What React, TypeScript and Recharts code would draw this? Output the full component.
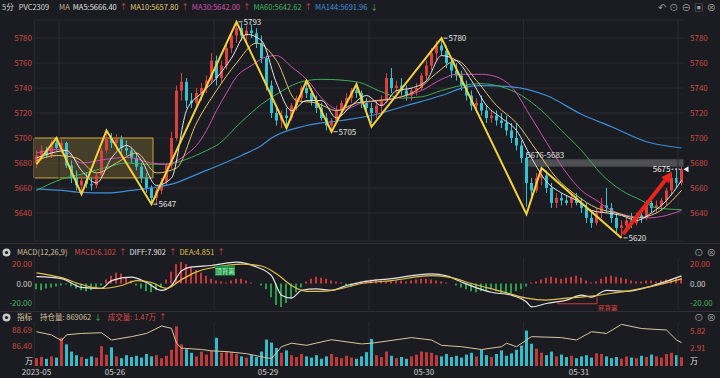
import {
  ComposedChart,
  Bar,
  Line,
  XAxis,
  YAxis,
  CartesianGrid,
  ReferenceLine,
  ReferenceArea,
  ReferenceDot,
  Cell,
} from 'recharts'

const BG = '#1b1c21'
const GRID = '#2a2b31'
const UP = '#d8433f'
const DOWN = '#36c2cf'
const FONT = '"Noto Sans CJK SC", "Noto Sans", sans-serif'

// [open, high, low, close] per bar (resampled 5-minute bars)
const CANDLES: [number, number, number, number][] = [
  [5680, 5690, 5676, 5686], [5686, 5694, 5682, 5690], [5690, 5693, 5684, 5686], [5686, 5698, 5684, 5696],
  [5696, 5700, 5690, 5692], [5692, 5699, 5688, 5696], [5696, 5697, 5676, 5678], [5678, 5682, 5664, 5668],
  [5668, 5674, 5658, 5662], [5662, 5670, 5657, 5666], [5666, 5672, 5660, 5663], [5663, 5668, 5658, 5662],
  [5662, 5672, 5660, 5670], [5670, 5692, 5668, 5690], [5690, 5705, 5688, 5700], [5700, 5704, 5692, 5696],
  [5696, 5703, 5690, 5699], [5699, 5702, 5688, 5692], [5692, 5698, 5686, 5690], [5690, 5692, 5680, 5684],
  [5684, 5688, 5674, 5677], [5677, 5680, 5664, 5668], [5668, 5672, 5656, 5660], [5660, 5662, 5648, 5652],
  [5652, 5660, 5647, 5658], [5658, 5668, 5655, 5665], [5665, 5680, 5662, 5678], [5678, 5705, 5675, 5700],
  [5700, 5742, 5698, 5738], [5738, 5752, 5730, 5745], [5745, 5748, 5724, 5730], [5730, 5736, 5724, 5728],
  [5728, 5740, 5726, 5736], [5736, 5744, 5730, 5740], [5740, 5750, 5736, 5746], [5746, 5768, 5744, 5762],
  [5762, 5766, 5742, 5748], [5748, 5762, 5744, 5758], [5758, 5776, 5755, 5772], [5772, 5786, 5768, 5782],
  [5782, 5793, 5776, 5788], [5788, 5792, 5778, 5782], [5782, 5790, 5776, 5786], [5786, 5791, 5780, 5784],
  [5784, 5788, 5772, 5776], [5776, 5782, 5760, 5764], [5764, 5766, 5738, 5742], [5742, 5746, 5716, 5720],
  [5720, 5726, 5710, 5714], [5714, 5722, 5708, 5718], [5718, 5724, 5710, 5716], [5716, 5728, 5714, 5726],
  [5726, 5734, 5722, 5732], [5732, 5742, 5728, 5740], [5740, 5746, 5732, 5736], [5736, 5740, 5726, 5730],
  [5730, 5734, 5720, 5724], [5724, 5728, 5714, 5716], [5716, 5720, 5706, 5710], [5710, 5716, 5705, 5714],
  [5714, 5726, 5712, 5722], [5722, 5730, 5718, 5728], [5728, 5736, 5724, 5732], [5732, 5740, 5728, 5738],
  [5738, 5744, 5732, 5736], [5736, 5738, 5724, 5728], [5728, 5732, 5720, 5724], [5724, 5728, 5712, 5720],
  [5720, 5730, 5716, 5726], [5726, 5734, 5720, 5730], [5730, 5752, 5728, 5748], [5748, 5756, 5736, 5740],
  [5740, 5746, 5736, 5742], [5742, 5748, 5734, 5738], [5738, 5742, 5730, 5734], [5734, 5740, 5730, 5738],
  [5738, 5744, 5734, 5740], [5740, 5752, 5738, 5750], [5750, 5762, 5746, 5758], [5758, 5772, 5754, 5768],
  [5768, 5778, 5762, 5774], [5774, 5780, 5766, 5770], [5770, 5774, 5756, 5760], [5760, 5764, 5748, 5754],
  [5754, 5760, 5746, 5750], [5750, 5754, 5738, 5742], [5742, 5746, 5730, 5734], [5734, 5738, 5722, 5726],
  [5726, 5732, 5720, 5728], [5728, 5734, 5718, 5722], [5722, 5726, 5712, 5716], [5716, 5722, 5712, 5718],
  [5718, 5722, 5710, 5714], [5714, 5720, 5708, 5712], [5712, 5718, 5702, 5706], [5706, 5712, 5696, 5700],
  [5700, 5712, 5690, 5694], [5694, 5698, 5680, 5684], [5684, 5688, 5645, 5664], [5664, 5668, 5652, 5658],
  [5658, 5672, 5656, 5668], [5668, 5676, 5662, 5670], [5670, 5674, 5656, 5660], [5660, 5664, 5644, 5648],
  [5648, 5656, 5644, 5652], [5652, 5656, 5646, 5650], [5650, 5654, 5646, 5648], [5648, 5656, 5644, 5652],
  [5652, 5656, 5646, 5648], [5648, 5652, 5640, 5644], [5644, 5648, 5632, 5636], [5636, 5640, 5628, 5632],
  [5632, 5644, 5630, 5640], [5640, 5652, 5636, 5646], [5646, 5660, 5640, 5644], [5644, 5648, 5632, 5636],
  [5636, 5640, 5624, 5628], [5628, 5634, 5620, 5630], [5630, 5638, 5626, 5634], [5634, 5640, 5628, 5632],
  [5632, 5640, 5630, 5638], [5638, 5644, 5632, 5636], [5636, 5650, 5634, 5648], [5648, 5654, 5640, 5644],
  [5644, 5650, 5640, 5646], [5646, 5652, 5642, 5650], [5650, 5660, 5646, 5658], [5658, 5672, 5654, 5668],
  [5668, 5676, 5660, 5664], [5664, 5677, 5662, 5675],
]
const N = CANDLES.length

// moving averages, [bar index, value]
const MA5: [number, number][] = [
  [0, 5684], [3, 5688], [6, 5690], [9, 5674], [12, 5664], [15, 5684], [18, 5694], [21, 5682], [24, 5662],
  [27, 5668], [30, 5722], [33, 5736], [36, 5748], [39, 5764], [42, 5783], [45, 5778], [48, 5744], [51, 5722],
  [54, 5730], [57, 5730], [60, 5716], [63, 5726], [66, 5734], [69, 5726], [72, 5738], [75, 5740], [78, 5746],
  [81, 5766], [84, 5762], [87, 5746], [90, 5726], [93, 5716], [96, 5706], [99, 5684], [102, 5665], [105, 5656],
  [108, 5650], [111, 5642], [114, 5640], [117, 5638], [120, 5634], [123, 5640], [126, 5650], [129, 5666],
]
const MA10: [number, number][] = [
  [0, 5682], [4, 5686], [8, 5684], [12, 5672], [16, 5680], [20, 5688], [24, 5672], [28, 5676], [32, 5712],
  [36, 5738], [40, 5760], [44, 5776], [48, 5762], [52, 5730], [56, 5728], [60, 5722], [64, 5728], [68, 5730],
  [72, 5732], [76, 5738], [80, 5752], [84, 5762], [88, 5746], [92, 5726], [96, 5712], [100, 5690], [104, 5668],
  [108, 5654], [112, 5644], [116, 5640], [120, 5636], [124, 5640], [129, 5658],
]
const MA30: [number, number][] = [
  [0, 5688], [5, 5691], [9, 5680], [14, 5683], [18, 5684.5], [23, 5680], [26, 5679], [30, 5687], [32, 5694],
  [34, 5706], [36, 5722], [38, 5736], [40, 5749], [43, 5758], [46, 5765], [48, 5766], [51, 5757], [54, 5747],
  [58, 5728], [61, 5722], [65, 5728], [69, 5730], [73, 5733], [77, 5738], [81, 5747], [84, 5751], [89, 5751],
  [92, 5749], [95, 5741], [99, 5716], [101, 5703], [103, 5690], [106, 5672], [109, 5658], [112, 5650],
  [115, 5642], [118, 5638], [122, 5636], [126, 5638], [129, 5642],
]
const MA60: [number, number][] = [
  [0, 5658], [5, 5667], [9, 5671], [14, 5676.5], [18, 5680], [22, 5679], [26, 5679], [30, 5683], [34, 5690],
  [36, 5694], [41, 5713], [45, 5727], [48, 5735], [53, 5745], [57, 5747], [64, 5745], [69, 5737], [73, 5732],
  [77, 5733], [81, 5738], [85, 5742], [89, 5743.5], [93, 5741], [97, 5734], [101, 5722], [105, 5706],
  [109, 5690], [113, 5671], [117, 5658], [121, 5650], [124, 5644], [129, 5642.6],
]
const MA144: [number, number][] = [
  [0, 5659], [5, 5658], [9, 5656.5], [14, 5656], [19, 5658], [23, 5660], [27, 5663], [33, 5672.5], [37, 5679],
  [41, 5686], [45, 5694], [47, 5700], [54, 5710], [61, 5714], [67, 5718], [74, 5726], [81, 5734], [86, 5741],
  [89, 5742], [95, 5741], [102, 5734], [109, 5719], [115, 5709], [122, 5697], [129, 5692],
]

// swing (zigzag) turning points
const ZIGZAG: [number, number][] = [
  [0, 5679], [4, 5700], [9, 5655], [14, 5706], [23, 5647], [40, 5793], [50, 5708], [54, 5746], [59, 5705],
  [64, 5743], [67, 5709], [81, 5780], [98, 5639], [101, 5676], [117, 5620],
]
const ZZ_LABELS: [number, number][] = [[40, 5793], [23, 5647], [59, 5705], [81, 5780], [117, 5620]]

const PRICE_TICKS = [5640, 5660, 5680, 5700, 5720, 5740, 5760, 5780]
const LAST_PRICE = 5675

// MACD(12,26,9)
const MACD_HIST = [
  -6, -7, -5, -4, -3, -2, -1, -3, -5, -7, -8, -7, -5, -2, 4, 8, 11, 10, 7, 3,
  -2, -5, -8, -9, -7, -4, 4, 12, 20, 22, 20, 17, 14, 11, 8, 5, 3, 2, 1, 3,
  5, 5, 3, 1, 0, -2, -6, -14, -22, -24, -20, -15, -9, -4, 2, 5, 7, 6, 5, 3,
  2, 1, -2, -3, -1, 2, 3, 4, 4, 3, 2, 2, 3, 3, 2, 3, 4, 5, 5, 4,
  3, 2, 1, 0, -2, -4, -6, -8, -9, -8, -7, -6, -8, -10, -11, -10, -8, -6, -3, 1,
  2, 4, 6, 7, 6, 5, 6, 7, 8, 6, 3, 1, 2, 5, 7, 8, 7, 6, 5, 3,
  2, 2, 3, 3, 2, 3, 4, 5, 6, 6.1,
]
const DIFF: [number, number][] = [
  [0, 7], [5, 5], [9, -4], [13, -5], [15, 3], [19, 6.5], [22, 1], [25, -7], [27, -2], [29, 13], [31, 17],
  [35, 18.5], [40, 22], [44, 17], [47, 8], [49, -12], [51, -15], [53, -7], [56, -5.5], [59, -7], [62, -2],
  [65, 1.5], [71, 5], [79, 10], [82, 8], [85, 1.5], [91, -9], [95, -12], [98, -19], [99, -24], [102, -20.5],
  [106, -17], [109, -12], [111, -14], [114, -7], [118, -8], [122, -4], [125, 0.7], [129, 7.9],
]
const DEA: [number, number][] = [
  [0, 11], [5, 6], [9, -1], [13, -5], [17, -2], [20, 3], [23, 1], [26, -5], [29, 4], [32, 12], [36, 17],
  [41, 20], [45, 18], [48, 10], [51, -2], [54, -8], [57, -8], [61, -5], [65, 0], [71, 3], [79, 8], [83, 6],
  [87, 0], [93, -8], [98, -15], [102, -17], [106, -15], [111, -13], [115, -10], [119, -7], [123, -3], [129, 4.85],
]
const MACD_TICKS = [-20, 0, 20]

// volume (万) and open interest (万)
const VOLUME = [
  1.3, 1.5, 1.2, 1.6, 1.4, 4.7, 3.6, 2.4, 1.8, 1.5, 1.2, 1.6, 1.4, 3.3, 1.9, 3.1, 1.6, 1.3, 1.8, 1.5,
  1.7, 1.4, 2.0, 1.6, 1.8, 1.3, 1.7, 2.7, 6.6, 3.6, 2.8, 2.2, 1.6, 2.4, 1.9, 2.6, 4.7, 2.2, 2.5, 2.3,
  2.0, 1.6, 1.4, 1.8, 1.5, 2.4, 4.4, 3.9, 3.0, 2.2, 2.6, 1.8, 1.5, 2.0, 1.6, 1.4, 1.8, 1.2, 1.6, 2.0,
  1.5, 1.3, 1.7, 1.4, 1.2, 1.6, 2.3, 4.5, 1.8, 1.5, 2.4, 1.7, 1.3, 1.5, 1.2, 1.6, 1.9, 2.4, 2.3, 2.2,
  1.8, 1.6, 2.0, 1.5, 1.7, 1.4, 1.9, 2.2, 1.6, 2.7, 1.8, 1.5, 2.0, 2.6, 1.7, 2.1, 2.7, 3.4, 5.9, 3.7,
  2.9, 2.2, 1.8, 2.4, 1.6, 1.9, 1.5, 1.7, 1.3, 1.6, 1.8, 1.4, 2.1, 2.0, 1.6, 1.3, 1.5, 1.2, 1.6, 1.4,
  1.3, 1.7, 1.5, 1.9, 1.6, 1.4, 2.0, 2.2, 1.8, 1.47,
]
const OPEN_INTEREST: [number, number][] = [
  [0, 88.45], [3, 87.98], [5, 87.17], [6, 88.0], [9, 88.2], [13, 88.3], [15, 87.26], [19, 87.74], [22, 88.2],
  [25, 89.26], [27, 88.93], [28, 86.8], [29, 86.1], [33, 85.9], [35, 85.7], [38, 85.6], [42, 85.3], [45, 84.85],
  [47, 84.6], [49, 86.3], [51, 86.8], [54, 86.5], [59, 87.3], [65, 86.7], [67, 86.8], [75, 87.6], [79, 87.26],
  [81, 86.5], [85, 86.3], [89, 85.9], [93, 86.3], [94, 86.8], [96, 86.3], [98, 87.26], [99, 87.74], [105, 87.6],
  [108, 87.26], [111, 88.45], [114, 88.2], [117, 89.5], [121, 88.9], [126, 88.69], [128, 87.26], [129, 86.9],
]

const DATE_TICKS = [0, 15.7, 46.3, 77.5, 108.5]
const DATE_LABELS = ['2023-05', '05-26', '05-29', '05-30', '05-31']
const GRID_X = [-0.45, 4.5, 35.5, 66.5, 97.4, 128.3]
const X_DOMAIN = [-0.5, N - 0.5]

function sparse(points: [number, number][]) {
  const out: (number | null)[] = Array(N).fill(null)
  points.forEach(([i, v]) => {
    out[i] = v
  })
  return out
}

const ma5 = sparse(MA5)
const ma10 = sparse(MA10)
const ma30 = sparse(MA30)
const ma60 = sparse(MA60)
const ma144 = sparse(MA144)
const zz = sparse(ZIGZAG)
const diff = sparse(DIFF)
const dea = sparse(DEA)
const oi = sparse(OPEN_INTEREST)

const mainRows = CANDLES.map(([o, h, l, c], i) => ({
  i, o, h, l, c, range: [l, h],
  ma5: ma5[i], ma10: ma10[i], ma30: ma30[i], ma60: ma60[i], ma144: ma144[i], zz: zz[i],
}))
const macdRows = MACD_HIST.map((v, i) => ({ i, hist: v, diff: diff[i], dea: dea[i] }))
const volRows = VOLUME.map((v, i) => ({ i, vol: v, oi: oi[i], up: CANDLES[i][3] >= CANDLES[i][0] }))

// eslint-disable-next-line @typescript-eslint/no-explicit-any
function Candle(props: any) {
  const { x, y, width, height, payload } = props
  if (!payload) return null
  const { o, h, l, c } = payload
  const top = Math.min(y, y + height)
  const span = Math.abs(height)
  const ppu = h > l ? span / (h - l) : 0
  const color = c >= o ? UP : DOWN
  const bodyTop = top + (h - Math.max(o, c)) * ppu
  const bodyH = Math.max(Math.abs(o - c) * ppu, 1)
  const cx = x + width / 2
  return (
    <g>
      <line x1={cx} x2={cx} y1={top} y2={top + span} stroke={color} strokeWidth={1} />
      <rect x={x} y={bodyTop} width={width} height={bodyH} fill={color} />
    </g>
  )
}

// eslint-disable-next-line @typescript-eslint/no-explicit-any
function Arrow(props: any) {
  const { x1, y1, x2, y2 } = props
  if (x1 == null || y2 == null) return null
  const ang = Math.atan2(y2 - y1, x2 - x1)
  const len = 11
  const w = 5
  const bx = x2 - len * Math.cos(ang)
  const by = y2 - len * Math.sin(ang)
  const px = -Math.sin(ang) * w
  const py = Math.cos(ang) * w
  return (
    <g>
      <line x1={x1} y1={y1} x2={bx} y2={by} stroke="#e8241c" strokeWidth={4} />
      <polygon points={`${x2},${y2} ${bx + px},${by + py} ${bx - px},${by - py}`} fill="#e8241c" />
    </g>
  )
}

const swingLabel = (text: string) =>
  // eslint-disable-next-line @typescript-eslint/no-explicit-any
  (p: any) => (
    <g>
      <line x1={p.cx + 2} x2={p.cx + 6} y1={p.cy} y2={p.cy} stroke="#d8d8d8" />
      <text x={p.cx + 7} y={p.cy} dy={3} fill="#e2e2e2" fontSize={8}>{text}</text>
    </g>
  )

// eslint-disable-next-line @typescript-eslint/no-explicit-any
function MacdTick(props: any) {
  const { x, y, payload, textAnchor } = props
  const v = Number(payload.value)
  const fill = v > 0 ? '#d8433f' : v < 0 ? '#3cb45a' : '#cfcfcf'
  return (
    <text x={x} y={y} dy={3} textAnchor={textAnchor} fill={fill} fontSize={8}>
      {v.toFixed(2)}
    </text>
  )
}

const priceTick = { fill: '#c94843', fontSize: 8 }

function Gear() {
  return (
    <svg width={9} height={9} style={{ marginRight: 3 }}>
      <circle cx={4.5} cy={4.5} r={4} fill="#c8c8c8" />
      <circle cx={4.5} cy={4.5} r={1.6} fill={BG} />
    </svg>
  )
}

function Row({ y, children }: { y: number; children: React.ReactNode }) {
  return (
    <div style={{ position: 'absolute', left: 2, top: y, height: 12, display: 'flex', alignItems: 'center', gap: 3, fontSize: 7.5, lineHeight: '12px', whiteSpace: 'nowrap' }}>
      {children}
    </div>
  )
}

function Icons({ y, glyphs }: { y: number; glyphs: string[] }) {
  return (
    <div style={{ position: 'absolute', right: 4, top: y, height: 12, display: 'flex', alignItems: 'center', gap: 3, fontSize: 9.5, lineHeight: '12px', color: '#9a9a9a' }}>
      {glyphs.map((g, k) => (
        <span key={k}>{g}</span>
      ))}
    </div>
  )
}

export default function App() {
  return (
    <div style={{ position: 'fixed', left: 0, top: 0, width: 720, height: 378, background: BG, overflow: 'hidden', fontFamily: FONT }}>
      {/* top legend */}
      <Row y={1}>
        <span style={{ color: '#d6d6d6', marginRight: 2 }}>5分</span>
        <span style={{ color: '#d6d6d6', marginRight: 7 }}>PVC2309</span>
        <span style={{ color: '#c9b48c' }}>MA</span>
        <span style={{ color: '#e0e0e0' }}>MA5:5666.40</span>
        <span style={{ color: UP }}>↑</span>
        <span style={{ color: '#e2c46e' }}>MA10:5657.80</span>
        <span style={{ color: UP }}>↑</span>
        <span style={{ color: '#d350b4' }}>MA30:5642.00</span>
        <span style={{ color: UP }}>↑</span>
        <span style={{ color: '#3fb65c' }}>MA60:5642.62</span>
        <span style={{ color: UP }}>↑</span>
        <span style={{ color: '#3f8fde' }}>MA144:5691.96</span>
        <span style={{ color: '#3fb65c' }}>↓</span>
      </Row>
      <Icons y={1} glyphs={['↶', '⊙', '⊖', '▣', '⊗']} />

      <div style={{ position: 'absolute', left: 0, top: 0 }}>
        <ComposedChart width={720} height={245} data={mainRows} margin={{ top: 20, right: 0, bottom: 4, left: 0 }}>
          <CartesianGrid stroke={GRID} vertical={false} />
          <XAxis dataKey="i" type="number" domain={X_DOMAIN} hide allowDataOverflow />
          <YAxis width={34} domain={[5617.5, 5794.5]} ticks={PRICE_TICKS} interval={0} axisLine={false} tickLine={false} tickSize={0} tickMargin={2} tick={priceTick} allowDataOverflow />
          <YAxis yAxisId="r" orientation="right" width={36} domain={[5617.5, 5794.5]} ticks={PRICE_TICKS} interval={0} axisLine={false} tickLine={false} tickSize={0} tickMargin={6} tick={priceTick} allowDataOverflow />
          {GRID_X.map((g) => (
            <ReferenceLine key={g} x={g} stroke={GRID} />
          ))}
          <ReferenceArea x1={-0.5} x2={23.3} y1={5668} y2={5700} fill="#a88f3a" fillOpacity={0.3} stroke="#c9a83a" strokeWidth={1} />
          <ReferenceArea x1={97.7} x2={129.4} y1={5677} y2={5683} fill="#8c8c8c" fillOpacity={0.45} strokeWidth={0} />
          <Bar dataKey="range" barSize={3} shape={(p: unknown) => <Candle {...(p as object)} />} isAnimationActive={false} />
          <Line dataKey="ma144" type="monotone" connectNulls stroke="#3d8ed8" strokeWidth={1.2} dot={false} isAnimationActive={false} />
          <Line dataKey="ma60" type="monotone" connectNulls stroke="#3fae58" strokeWidth={1} dot={false} isAnimationActive={false} />
          <Line dataKey="ma30" type="monotone" connectNulls stroke="#cf4fb2" strokeWidth={1} dot={false} isAnimationActive={false} />
          <Line dataKey="ma10" type="monotone" connectNulls stroke="#e3c46c" strokeWidth={1} dot={false} isAnimationActive={false} />
          <Line dataKey="ma5" type="monotone" connectNulls stroke="#e6e6e6" strokeWidth={1} dot={false} isAnimationActive={false} />
          <Line dataKey="zz" type="linear" connectNulls stroke="#f4d23c" strokeWidth={2} dot={false} isAnimationActive={false} />
          <ReferenceLine segment={[{ x: 117.3, y: 5623 }, { x: 127.1, y: 5673 }]} shape={(p: unknown) => <Arrow {...(p as object)} />} />
          {ZZ_LABELS.map(([i, v]) => (
            <ReferenceDot key={i} x={i} y={v} r={0} shape={swingLabel(String(v))} />
          ))}
          <ReferenceDot
            x={97.7}
            y={5683}
            r={0}
            // eslint-disable-next-line @typescript-eslint/no-explicit-any
            shape={(p: any) => (
              <text x={p.cx + 1} y={p.cy - 1} fill="#e0e0e0" fontSize={8}>5676-5683</text>
            )}
          />
          <ReferenceDot
            x={N - 1}
            y={LAST_PRICE}
            r={0}
            // eslint-disable-next-line @typescript-eslint/no-explicit-any
            shape={(p: any) => (
              <g>
                <text x={p.cx - 11} y={p.cy} dy={3} textAnchor="end" fill="#f0f0f0" fontSize={8}>{LAST_PRICE}</text>
                <line x1={p.cx - 10} x2={p.cx - 1} y1={p.cy} y2={p.cy} stroke="#e0e0e0" strokeDasharray="2 1.5" />
                <polygon points={`${p.cx + 2},${p.cy} ${p.cx + 7},${p.cy - 3} ${p.cx + 7},${p.cy + 3}`} fill="#f0f0f0" />
              </g>
            )}
          />
        </ComposedChart>
      </div>

      <div style={{ position: 'absolute', left: 0, top: 243, width: 720, height: 1, background: '#2e2f35' }} />

      {/* MACD panel */}
      <Row y={246}>
        <Gear />
        <span style={{ color: '#d4c09a', marginRight: 4 }}>MACD(12,26,9)</span>
        <span style={{ color: '#d8484a' }}>MACD:6.102</span>
        <span style={{ color: UP }}>↑</span>
        <span style={{ color: '#e4e4e4' }}>DIFF:7.902</span>
        <span style={{ color: UP }}>↑</span>
        <span style={{ color: '#e0c04a' }}>DEA:4.851</span>
        <span style={{ color: UP }}>↑</span>
      </Row>
      <Icons y={246} glyphs={['⊙', '⊗']} />
      <div style={{ position: 'absolute', left: 0, top: 245 }}>
        <ComposedChart width={720} height={70} data={macdRows} margin={{ top: 13, right: 0, bottom: 5, left: 0 }}>
          <XAxis dataKey="i" type="number" domain={X_DOMAIN} hide allowDataOverflow />
          <YAxis width={34} domain={[-27.2, 26.2]} ticks={MACD_TICKS} interval={0} axisLine={false} tickLine={false} tickSize={0} tickMargin={2} tick={(p: unknown) => <MacdTick {...(p as object)} />} allowDataOverflow />
          <YAxis yAxisId="r" orientation="right" width={36} domain={[-27.2, 26.2]} ticks={MACD_TICKS} interval={0} axisLine={false} tickLine={false} tickSize={0} tickMargin={6} tick={(p: unknown) => <MacdTick {...(p as object)} />} allowDataOverflow />
          {GRID_X.map((g) => (
            <ReferenceLine key={g} x={g} stroke={GRID} />
          ))}
          <Bar dataKey="hist" barSize={2} isAnimationActive={false}>
            {macdRows.map((r) => (
              <Cell key={r.i} fill={r.hist >= 0 ? '#c8383a' : '#2c9a4c'} />
            ))}
          </Bar>
          <Line dataKey="diff" type="monotone" connectNulls stroke="#e6e6e6" strokeWidth={1.2} dot={false} isAnimationActive={false} />
          <Line dataKey="dea" type="monotone" connectNulls stroke="#e0c04a" strokeWidth={1.2} dot={false} isAnimationActive={false} />
          <ReferenceDot
            x={37.7}
            y={13.3}
            r={0}
            // eslint-disable-next-line @typescript-eslint/no-explicit-any
            shape={(p: any) => (
              <g>
                <rect x={p.cx - 10} y={p.cy - 5} width={20} height={10} fill="#1e8f44" />
                <text x={p.cx} y={p.cy} dy={3} textAnchor="middle" fill="#b8f0c0" fontSize={6.5}>顶背离</text>
              </g>
            )}
          />
          <ReferenceLine segment={[{ x: 104.1, y: -20.8 }, { x: 112.1, y: -20.8 }]} stroke="#d23a36" />
          <ReferenceLine segment={[{ x: 112.1, y: -20.8 }, { x: 112.1, y: -13 }]} stroke="#d23a36" />
          <ReferenceDot
            x={112.1}
            y={-25}
            r={0}
            // eslint-disable-next-line @typescript-eslint/no-explicit-any
            shape={(p: any) => (
              <text x={p.cx + 1} y={p.cy} dy={3} fill="#e0443e" fontSize={6.5}>底背离</text>
            )}
          />
        </ComposedChart>
      </div>

      <div style={{ position: 'absolute', left: 0, top: 311, width: 720, height: 1, background: '#2e2f35' }} />

      {/* volume / open interest panel */}
      <Row y={311}>
        <Gear />
        <span style={{ color: '#d4c09a', marginRight: 5 }}>指标</span>
        <span style={{ color: '#d4c09a' }}>持仓量: 869062</span>
        <span style={{ color: '#3fb65c', marginRight: 3 }}>↓</span>
        <span style={{ color: '#d8484a' }}>成交量: 1.47万</span>
        <span style={{ color: UP }}>↑</span>
      </Row>
      <Icons y={311} glyphs={['⊙', '⊗']} />
      <div style={{ position: 'absolute', left: 25, top: 356, fontSize: 8, lineHeight: '10px', color: '#e0e0e0' }}>万</div>
      <div style={{ position: 'absolute', left: 690, top: 356, fontSize: 8, lineHeight: '10px', color: '#e0e0e0' }}>万</div>
      <div style={{ position: 'absolute', left: 0, top: 315 }}>
        <ComposedChart width={720} height={63} data={volRows} margin={{ top: 7, right: 0, bottom: 0, left: 0 }}>
          <XAxis
            dataKey="i"
            type="number"
            domain={X_DOMAIN}
            ticks={DATE_TICKS}
            interval={0}
            tickFormatter={(v: number) => DATE_LABELS[DATE_TICKS.indexOf(v)] ?? ''}
            height={12}
            axisLine={false}
            tickLine={false}
            tickSize={0}
            tickMargin={3}
            tick={{ fill: '#d0d0d0', fontSize: 8 }}
            allowDataOverflow
          />
          <YAxis yAxisId="oi" width={34} domain={[83.54, 89.835]} ticks={[86.4, 88.69]} interval={0} tickFormatter={(v: number) => v.toFixed(2)} axisLine={false} tickLine={false} tickSize={0} tickMargin={2} tick={priceTick} allowDataOverflow />
          <YAxis yAxisId="vol" orientation="right" width={36} domain={[0, 7.32]} ticks={[2.91, 5.82]} interval={0} tickFormatter={(v: number) => v.toFixed(2)} axisLine={false} tickLine={false} tickSize={0} tickMargin={6} tick={priceTick} allowDataOverflow />
          {GRID_X.map((g) => (
            <ReferenceLine key={g} x={g} yAxisId="vol" stroke={GRID} />
          ))}
          <Bar yAxisId="vol" dataKey="vol" barSize={3} isAnimationActive={false}>
            {volRows.map((r) => (
              <Cell key={r.i} fill={r.up ? '#bf3a3b' : '#34bccb'} />
            ))}
          </Bar>
          <Line yAxisId="oi" dataKey="oi" type="linear" connectNulls stroke="#d9c6a0" strokeWidth={1} dot={false} isAnimationActive={false} />
        </ComposedChart>
      </div>
    </div>
  )
}
